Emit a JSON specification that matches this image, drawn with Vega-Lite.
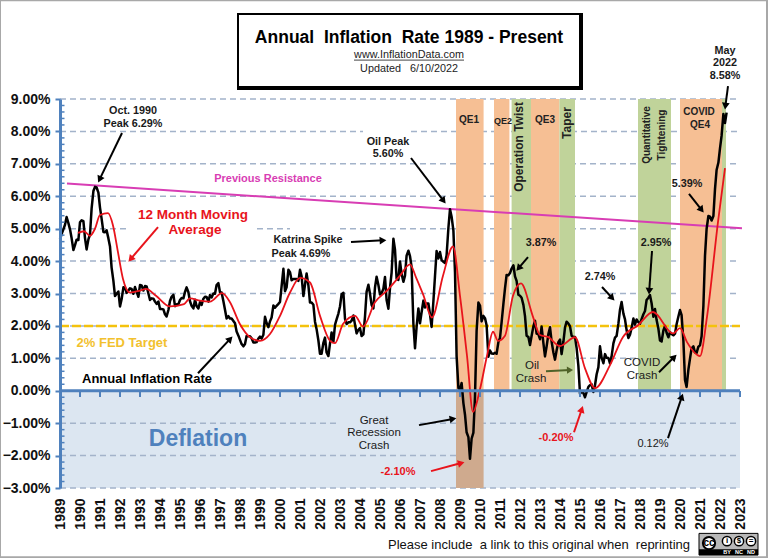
{"$schema":"https://vega.github.io/schema/vega-lite/v6.json","width":680,"height":389,"autosize":{"type":"none"},"padding":{"left":60,"top":99,"right":28,"bottom":70},"background":"white","view":{"stroke":null},
"datasets":{
"cpi":[
{"x":1989.00,"y":4.67},{"x":1989.08,"y":4.83},{"x":1989.17,"y":4.98},{"x":1989.25,"y":5.12},{"x":1989.33,"y":5.36},{"x":1989.42,"y":5.17},{"x":1989.50,"y":4.98},{"x":1989.58,"y":4.71},{"x":1989.67,"y":4.34},{"x":1989.75,"y":4.49},{"x":1989.83,"y":4.66},{"x":1989.92,"y":4.65},
{"x":1990.00,"y":5.20},{"x":1990.08,"y":5.26},{"x":1990.17,"y":5.23},{"x":1990.25,"y":4.71},{"x":1990.33,"y":4.36},{"x":1990.42,"y":4.67},{"x":1990.50,"y":4.82},{"x":1990.58,"y":5.62},{"x":1990.67,"y":6.16},{"x":1990.75,"y":6.29},{"x":1990.83,"y":6.27},{"x":1990.92,"y":6.11},
{"x":1991.00,"y":5.65},{"x":1991.08,"y":5.31},{"x":1991.17,"y":4.90},{"x":1991.25,"y":4.89},{"x":1991.33,"y":4.95},{"x":1991.42,"y":4.70},{"x":1991.50,"y":4.45},{"x":1991.58,"y":3.80},{"x":1991.67,"y":3.39},{"x":1991.75,"y":2.92},{"x":1991.83,"y":2.99},{"x":1991.92,"y":3.06},
{"x":1992.00,"y":2.60},{"x":1992.08,"y":2.82},{"x":1992.17,"y":3.19},{"x":1992.25,"y":3.18},{"x":1992.33,"y":3.02},{"x":1992.42,"y":3.09},{"x":1992.50,"y":3.16},{"x":1992.58,"y":3.14},{"x":1992.67,"y":2.99},{"x":1992.75,"y":3.20},{"x":1992.83,"y":3.05},{"x":1992.92,"y":2.90},
{"x":1993.00,"y":3.26},{"x":1993.08,"y":3.25},{"x":1993.17,"y":3.09},{"x":1993.25,"y":3.23},{"x":1993.33,"y":3.22},{"x":1993.42,"y":3.00},{"x":1993.50,"y":2.80},{"x":1993.58,"y":2.85},{"x":1993.67,"y":2.84},{"x":1993.75,"y":2.75},{"x":1993.83,"y":2.68},{"x":1993.92,"y":2.75},
{"x":1994.00,"y":2.52},{"x":1994.08,"y":2.52},{"x":1994.17,"y":2.51},{"x":1994.25,"y":2.36},{"x":1994.33,"y":2.29},{"x":1994.42,"y":2.49},{"x":1994.50,"y":2.77},{"x":1994.58,"y":2.90},{"x":1994.67,"y":2.96},{"x":1994.75,"y":2.61},{"x":1994.83,"y":2.67},{"x":1994.92,"y":2.67},
{"x":1995.00,"y":2.80},{"x":1995.08,"y":2.86},{"x":1995.17,"y":2.85},{"x":1995.25,"y":3.05},{"x":1995.33,"y":3.19},{"x":1995.42,"y":3.04},{"x":1995.50,"y":2.76},{"x":1995.58,"y":2.62},{"x":1995.67,"y":2.54},{"x":1995.75,"y":2.81},{"x":1995.83,"y":2.61},{"x":1995.92,"y":2.54},
{"x":1996.00,"y":2.73},{"x":1996.08,"y":2.65},{"x":1996.17,"y":2.84},{"x":1996.25,"y":2.90},{"x":1996.33,"y":2.89},{"x":1996.42,"y":2.75},{"x":1996.50,"y":2.95},{"x":1996.58,"y":2.88},{"x":1996.67,"y":3.00},{"x":1996.75,"y":2.99},{"x":1996.83,"y":3.26},{"x":1996.92,"y":3.32},
{"x":1997.00,"y":3.04},{"x":1997.08,"y":3.03},{"x":1997.17,"y":2.76},{"x":1997.25,"y":2.50},{"x":1997.33,"y":2.23},{"x":1997.42,"y":2.30},{"x":1997.50,"y":2.23},{"x":1997.58,"y":2.23},{"x":1997.67,"y":2.15},{"x":1997.75,"y":2.08},{"x":1997.83,"y":1.83},{"x":1997.92,"y":1.70},
{"x":1998.00,"y":1.57},{"x":1998.08,"y":1.44},{"x":1998.17,"y":1.37},{"x":1998.25,"y":1.44},{"x":1998.33,"y":1.69},{"x":1998.42,"y":1.68},{"x":1998.50,"y":1.68},{"x":1998.58,"y":1.62},{"x":1998.67,"y":1.49},{"x":1998.75,"y":1.49},{"x":1998.83,"y":1.50},{"x":1998.92,"y":1.61},
{"x":1999.00,"y":1.67},{"x":1999.08,"y":1.61},{"x":1999.17,"y":1.73},{"x":1999.25,"y":2.28},{"x":1999.33,"y":2.09},{"x":1999.42,"y":1.96},{"x":1999.50,"y":2.14},{"x":1999.58,"y":2.26},{"x":1999.67,"y":2.63},{"x":1999.75,"y":2.56},{"x":1999.83,"y":2.62},{"x":1999.92,"y":2.68},
{"x":2000.00,"y":2.74},{"x":2000.08,"y":3.22},{"x":2000.17,"y":3.76},{"x":2000.25,"y":3.07},{"x":2000.33,"y":3.19},{"x":2000.42,"y":3.73},{"x":2000.50,"y":3.66},{"x":2000.58,"y":3.41},{"x":2000.67,"y":3.45},{"x":2000.75,"y":3.45},{"x":2000.83,"y":3.45},{"x":2000.92,"y":3.39},
{"x":2001.00,"y":3.73},{"x":2001.08,"y":3.53},{"x":2001.17,"y":2.92},{"x":2001.25,"y":3.27},{"x":2001.33,"y":3.62},{"x":2001.42,"y":3.25},{"x":2001.50,"y":2.72},{"x":2001.58,"y":2.72},{"x":2001.67,"y":2.65},{"x":2001.75,"y":2.13},{"x":2001.83,"y":1.90},{"x":2001.92,"y":1.55},
{"x":2002.00,"y":1.14},{"x":2002.08,"y":1.14},{"x":2002.17,"y":1.48},{"x":2002.25,"y":1.64},{"x":2002.33,"y":1.18},{"x":2002.42,"y":1.07},{"x":2002.50,"y":1.46},{"x":2002.58,"y":1.80},{"x":2002.67,"y":1.51},{"x":2002.75,"y":2.03},{"x":2002.83,"y":2.20},{"x":2002.92,"y":2.38},
{"x":2003.00,"y":2.60},{"x":2003.08,"y":2.98},{"x":2003.17,"y":3.02},{"x":2003.25,"y":2.22},{"x":2003.33,"y":2.06},{"x":2003.42,"y":2.11},{"x":2003.50,"y":2.11},{"x":2003.58,"y":2.16},{"x":2003.67,"y":2.32},{"x":2003.75,"y":2.04},{"x":2003.83,"y":1.77},{"x":2003.92,"y":1.88},
{"x":2004.00,"y":1.93},{"x":2004.08,"y":1.69},{"x":2004.17,"y":1.74},{"x":2004.25,"y":2.29},{"x":2004.33,"y":3.05},{"x":2004.42,"y":3.27},{"x":2004.50,"y":2.99},{"x":2004.58,"y":2.65},{"x":2004.67,"y":2.54},{"x":2004.75,"y":3.19},{"x":2004.83,"y":3.52},{"x":2004.92,"y":3.26},
{"x":2005.00,"y":2.97},{"x":2005.08,"y":3.01},{"x":2005.17,"y":3.15},{"x":2005.25,"y":3.51},{"x":2005.33,"y":2.80},{"x":2005.42,"y":2.53},{"x":2005.50,"y":3.17},{"x":2005.58,"y":3.64},{"x":2005.67,"y":4.69},{"x":2005.75,"y":4.35},{"x":2005.83,"y":3.46},{"x":2005.92,"y":3.42},
{"x":2006.00,"y":3.99},{"x":2006.08,"y":3.60},{"x":2006.17,"y":3.36},{"x":2006.25,"y":3.55},{"x":2006.33,"y":4.17},{"x":2006.42,"y":4.32},{"x":2006.50,"y":4.15},{"x":2006.58,"y":3.82},{"x":2006.67,"y":2.06},{"x":2006.75,"y":1.31},{"x":2006.83,"y":1.97},{"x":2006.92,"y":2.54},
{"x":2007.00,"y":2.08},{"x":2007.08,"y":2.42},{"x":2007.17,"y":2.78},{"x":2007.25,"y":2.57},{"x":2007.33,"y":2.69},{"x":2007.42,"y":2.69},{"x":2007.50,"y":2.36},{"x":2007.58,"y":1.97},{"x":2007.67,"y":2.76},{"x":2007.75,"y":3.54},{"x":2007.83,"y":4.31},{"x":2007.92,"y":4.08},
{"x":2008.00,"y":4.28},{"x":2008.08,"y":4.03},{"x":2008.17,"y":3.98},{"x":2008.25,"y":3.94},{"x":2008.33,"y":4.18},{"x":2008.42,"y":5.02},{"x":2008.50,"y":5.60},{"x":2008.58,"y":5.37},{"x":2008.67,"y":4.94},{"x":2008.75,"y":3.66},{"x":2008.83,"y":1.07},{"x":2008.92,"y":0.09},
{"x":2009.00,"y":0.03},{"x":2009.08,"y":0.24},{"x":2009.17,"y":-0.38},{"x":2009.25,"y":-0.74},{"x":2009.33,"y":-1.28},{"x":2009.42,"y":-1.43},{"x":2009.50,"y":-2.10},{"x":2009.58,"y":-1.48},{"x":2009.67,"y":-1.29},{"x":2009.75,"y":-0.18},{"x":2009.83,"y":1.84},{"x":2009.92,"y":2.72},
{"x":2010.00,"y":2.63},{"x":2010.08,"y":2.14},{"x":2010.17,"y":2.31},{"x":2010.25,"y":2.24},{"x":2010.33,"y":2.02},{"x":2010.42,"y":1.05},{"x":2010.50,"y":1.24},{"x":2010.58,"y":1.15},{"x":2010.67,"y":1.14},{"x":2010.75,"y":1.17},{"x":2010.83,"y":1.14},{"x":2010.92,"y":1.50},
{"x":2011.00,"y":1.63},{"x":2011.08,"y":2.11},{"x":2011.17,"y":2.68},{"x":2011.25,"y":3.16},{"x":2011.33,"y":3.57},{"x":2011.42,"y":3.56},{"x":2011.50,"y":3.63},{"x":2011.58,"y":3.77},{"x":2011.67,"y":3.87},{"x":2011.75,"y":3.53},{"x":2011.83,"y":3.39},{"x":2011.92,"y":2.96},
{"x":2012.00,"y":2.93},{"x":2012.08,"y":2.87},{"x":2012.17,"y":2.65},{"x":2012.25,"y":2.30},{"x":2012.33,"y":1.70},{"x":2012.42,"y":1.66},{"x":2012.50,"y":1.41},{"x":2012.58,"y":1.69},{"x":2012.67,"y":1.99},{"x":2012.75,"y":2.16},{"x":2012.83,"y":1.76},{"x":2012.92,"y":1.74},
{"x":2013.00,"y":1.59},{"x":2013.08,"y":1.98},{"x":2013.17,"y":1.47},{"x":2013.25,"y":1.06},{"x":2013.33,"y":1.36},{"x":2013.42,"y":1.75},{"x":2013.50,"y":1.96},{"x":2013.58,"y":1.52},{"x":2013.67,"y":1.18},{"x":2013.75,"y":0.96},{"x":2013.83,"y":1.24},{"x":2013.92,"y":1.50},
{"x":2014.00,"y":1.58},{"x":2014.08,"y":1.13},{"x":2014.17,"y":1.51},{"x":2014.25,"y":1.95},{"x":2014.33,"y":2.13},{"x":2014.42,"y":2.07},{"x":2014.50,"y":1.99},{"x":2014.58,"y":1.70},{"x":2014.67,"y":1.66},{"x":2014.75,"y":1.66},{"x":2014.83,"y":1.32},{"x":2014.92,"y":0.76},
{"x":2015.00,"y":-0.09},{"x":2015.08,"y":-0.03},{"x":2015.17,"y":-0.07},{"x":2015.25,"y":-0.20},{"x":2015.33,"y":-0.04},{"x":2015.42,"y":0.12},{"x":2015.50,"y":0.17},{"x":2015.58,"y":0.20},{"x":2015.67,"y":-0.04},{"x":2015.75,"y":0.17},{"x":2015.83,"y":0.50},{"x":2015.92,"y":0.73},
{"x":2016.00,"y":1.37},{"x":2016.08,"y":1.02},{"x":2016.17,"y":0.85},{"x":2016.25,"y":1.13},{"x":2016.33,"y":1.02},{"x":2016.42,"y":1.01},{"x":2016.50,"y":0.84},{"x":2016.58,"y":1.06},{"x":2016.67,"y":1.46},{"x":2016.75,"y":1.64},{"x":2016.83,"y":1.69},{"x":2016.92,"y":2.07},
{"x":2017.00,"y":2.50},{"x":2017.08,"y":2.74},{"x":2017.17,"y":2.38},{"x":2017.25,"y":2.20},{"x":2017.33,"y":1.87},{"x":2017.42,"y":1.63},{"x":2017.50,"y":1.73},{"x":2017.58,"y":1.94},{"x":2017.67,"y":2.23},{"x":2017.75,"y":2.04},{"x":2017.83,"y":2.20},{"x":2017.92,"y":2.11},
{"x":2018.00,"y":2.07},{"x":2018.08,"y":2.21},{"x":2018.17,"y":2.36},{"x":2018.25,"y":2.46},{"x":2018.33,"y":2.80},{"x":2018.42,"y":2.87},{"x":2018.50,"y":2.95},{"x":2018.58,"y":2.70},{"x":2018.67,"y":2.28},{"x":2018.75,"y":2.52},{"x":2018.83,"y":2.18},{"x":2018.92,"y":1.91},
{"x":2019.00,"y":1.55},{"x":2019.08,"y":1.52},{"x":2019.17,"y":1.86},{"x":2019.25,"y":2.00},{"x":2019.33,"y":1.79},{"x":2019.42,"y":1.65},{"x":2019.50,"y":1.81},{"x":2019.58,"y":1.75},{"x":2019.67,"y":1.71},{"x":2019.75,"y":1.76},{"x":2019.83,"y":2.05},{"x":2019.92,"y":2.29},
{"x":2020.00,"y":2.49},{"x":2020.08,"y":2.33},{"x":2020.17,"y":1.54},{"x":2020.25,"y":0.33},{"x":2020.33,"y":0.12},{"x":2020.42,"y":0.65},{"x":2020.50,"y":0.99},{"x":2020.58,"y":1.31},{"x":2020.67,"y":1.37},{"x":2020.75,"y":1.18},{"x":2020.83,"y":1.17},{"x":2020.92,"y":1.36},
{"x":2021.00,"y":1.40},{"x":2021.08,"y":1.68},{"x":2021.17,"y":2.62},{"x":2021.25,"y":4.16},{"x":2021.33,"y":4.99},{"x":2021.42,"y":5.39},{"x":2021.50,"y":5.37},{"x":2021.58,"y":5.25},{"x":2021.67,"y":5.39},{"x":2021.75,"y":6.22},{"x":2021.83,"y":6.81},{"x":2021.92,"y":7.04},
{"x":2022.00,"y":7.48},{"x":2022.08,"y":7.87},{"x":2022.17,"y":8.54},{"x":2022.25,"y":8.26},{"x":2022.33,"y":8.58}],
"ma":[
{"x":1989.9,"y":4.87},{"x":1990.2,"y":4.92},{"x":1990.5,"y":4.78},{"x":1990.75,"y":5.0},{"x":1991.0,"y":5.42},{"x":1991.4,"y":5.48},{"x":1991.65,"y":5.1},{"x":1991.9,"y":4.27},{"x":1992.15,"y":3.45},{"x":1992.5,"y":3.03},{"x":1993.0,"y":3.09},{"x":1993.3,"y":3.14},{"x":1993.8,"y":2.93},{"x":1994.5,"y":2.6},{"x":1995.2,"y":2.67},{"x":1995.5,"y":2.85},{"x":1996.0,"y":2.78},{"x":1996.5,"y":2.75},{"x":1997.1,"y":3.01},{"x":1997.5,"y":2.73},{"x":1998.0,"y":2.05},{"x":1998.5,"y":1.65},{"x":1999.0,"y":1.54},{"x":1999.5,"y":1.75},{"x":2000.0,"y":2.31},{"x":2000.5,"y":3.03},{"x":2001.0,"y":3.48},{"x":2001.5,"y":3.34},{"x":2002.0,"y":2.31},{"x":2002.5,"y":1.54},{"x":2002.75,"y":1.47},{"x":2003.15,"y":2.06},{"x":2003.75,"y":2.31},{"x":2004.15,"y":1.98},{"x":2004.75,"y":2.73},{"x":2005.35,"y":3.09},{"x":2006.0,"y":3.55},{"x":2006.5,"y":3.9},{"x":2006.8,"y":3.5},{"x":2007.15,"y":2.98},{"x":2007.6,"y":2.26},{"x":2008.15,"y":3.55},{"x":2008.65,"y":4.45},{"x":2009.0,"y":2.93},{"x":2009.35,"y":1.08},{"x":2009.65,"y":-0.65},{"x":2010.0,"y":0.05},{"x":2010.35,"y":1.08},{"x":2010.65,"y":1.82},{"x":2010.9,"y":1.54},{"x":2011.25,"y":1.7},{"x":2011.65,"y":2.93},{"x":2012.05,"y":3.31},{"x":2012.65,"y":2.28},{"x":2013.0,"y":1.72},{"x":2013.4,"y":1.66},{"x":2014.0,"y":1.38},{"x":2014.75,"y":1.65},{"x":2015.25,"y":0.69},{"x":2015.75,"y":0.08},{"x":2016.5,"y":0.79},{"x":2017.15,"y":1.66},{"x":2017.9,"y":2.02},{"x":2018.65,"y":2.43},{"x":2019.65,"y":1.77},{"x":2020.0,"y":1.93},{"x":2020.35,"y":1.5},{"x":2021.0,"y":1.07},{"x":2021.35,"y":2.28},{"x":2021.9,"y":5.21},{"x":2022.25,"y":6.87}],
"arrowsBlack":[
{"x":1992.1,"y":7.95,"x2":1990.98,"y2":6.52,"heading":205.6},
{"x":1995.9,"y":0.54,"x2":1997.51,"y2":1.60,"heading":43.4},
{"x":2003.55,"y":4.59,"x2":2005.15,"y2":4.64,"heading":86.8},
{"x":2006.55,"y":7.18,"x2":2008.18,"y2":5.86,"heading":142.7},
{"x":2006.95,"y":-1.06,"x2":2008.65,"y2":-0.87,"heading":79.6},
{"x":2012.4,"y":4.12,"x2":2011.93,"y2":3.78,"heading":220.6},
{"x":2018.6,"y":4.31,"x2":2018.46,"y2":3.07,"heading":183.9},
{"x":2016.1,"y":3.2,"x2":2016.61,"y2":2.86,"heading":137.1},
{"x":2020.45,"y":6.07,"x2":2021.08,"y2":5.58,"heading":141.7},
{"x":2022.4,"y":9.4,"x2":2022.27,"y2":8.78,"heading":187.1},
{"x":2018.95,"y":0.57,"x2":2019.71,"y2":1.04,"heading":45},
{"x":2019.4,"y":-1.46,"x2":2020.09,"y2":-0.19,"heading":18.4}],
"arrowsRed":[
{"x":1993.9,"y":5.05,"x2":1992.53,"y2":4.06,"heading":220.6},
{"x":2007.55,"y":-2.48,"x2":2009.06,"y2":-2.23,"heading":75.2},
{"x":2014.7,"y":-1.28,"x2":2015.09,"y2":-0.57,"heading":18.4}],
"arrowsOlive":[{"x":2013.3,"y":0.6,"x2":2014.5,"y2":0.64,"heading":88}]
},
"encoding":{
"x":{"field":"x","type":"quantitative","scale":{"domain":[1989,2023],"nice":false,"zero":false},"axis":{"title":null,"values":[1989,1990,1991,1992,1993,1994,1995,1996,1997,1998,1999,2000,2001,2002,2003,2004,2005,2006,2007,2008,2009,2010,2011,2012,2013,2014,2015,2016,2017,2018,2019,2020,2021,2022,2023],"format":"d","grid":false,"domain":false,"ticks":false,"labelAngle":270,"labelAlign":"right","labelBaseline":"middle","labelPadding":10,"labelFont":"Liberation Sans","labelFontWeight":"bold","labelFontSize":14,"labelColor":"#111111","labelOverlap":false}},
"y":{"field":"y","type":"quantitative","scale":{"domain":[-3,9],"nice":false,"zero":false},"axis":{"title":null,"values":[-3,-2,-1,0,1,2,3,4,5,6,7,8,9],"labelExpr":"format(datum.value,'.2f')+'%'","grid":false,"domainColor":"#4f81bd","domainWidth":3,"tickColor":"#4f81bd","tickWidth":2,"tickSize":5,"labelPadding":5,"labelFont":"Liberation Sans","labelFontWeight":"bold","labelFontSize":14,"labelColor":"#111111","labelOverlap":false,"zindex":1}}
},
"layer":[
{"data":{"values":[{"x":1986,"x2":2024.35,"y":12.05,"y2":-5.14}]},"mark":{"type":"rect","fill":null,"stroke":"#a8a8a8","strokeWidth":2},"encoding":{"x2":{"field":"x2"},"y2":{"field":"y2"}}},
{"data":{"values":[{"x":1997.85,"x2":2015.15,"y":11.65,"y2":9.28}]},"mark":{"type":"rect","fill":"#000000"},"encoding":{"x2":{"field":"x2"},"y2":{"field":"y2"}}},
{"data":{"values":[{"x":1997.95,"x2":2014.95,"y":11.59,"y2":9.40}]},"mark":{"type":"rect","fill":"#ffffff"},"encoding":{"x2":{"field":"x2"},"y2":{"field":"y2"}}},
{"data":{"values":[{"x":1989,"x2":2023,"y":0,"y2":-3}]},"mark":{"type":"rect","fill":"#dce6f1"},"encoding":{"x2":{"field":"x2"},"y2":{"field":"y2"}}},
{"data":{"values":[{"x":1989,"x2":2023,"y":9},{"x":1989,"x2":2004.15,"y":8},{"x":2006.55,"x2":2023,"y":8},{"x":1989,"x2":2023,"y":7},{"x":1989,"x2":2023,"y":6},{"x":1989,"x2":1992.5,"y":5},{"x":1998.85,"x2":2000.5,"y":5},{"x":2003,"x2":2023,"y":5},{"x":1989,"x2":2023,"y":4},{"x":1989,"x2":2023,"y":3},{"x":1989,"x2":2023,"y":2},{"x":1989,"x2":2023,"y":1},{"x":1989,"x2":2002.8,"y":-1},{"x":2007,"x2":2023,"y":-1},{"x":1989,"x2":2023,"y":-2},{"x":1989,"x2":2023,"y":-3}]},"mark":{"type":"rule","stroke":"#a3b3ca","strokeWidth":1.5,"strokeDash":[6,4]},"encoding":{"x2":{"field":"x2"}}},
{"data":{"values":[{"x":2008.8,"x2":2010.18,"y":9,"y2":0},{"x":2010.7,"x2":2011.47,"y":9,"y2":0},{"x":2012.55,"x2":2013.97,"y":9,"y2":0},{"x":2020.0,"x2":2022.1,"y":9,"y2":0}]},"mark":{"type":"rect","fill":"#f6bf94"},"encoding":{"x2":{"field":"x2"},"y2":{"field":"y2"}}},
{"data":{"values":[{"x":2011.58,"x2":2012.55,"y":9,"y2":0},{"x":2013.97,"x2":2014.75,"y":9,"y2":0},{"x":2017.9,"x2":2019.55,"y":9,"y2":0},{"x":2022.1,"x2":2022.3,"y":9,"y2":0}]},"mark":{"type":"rect","fill":"#c0d39a"},"encoding":{"x2":{"field":"x2"},"y2":{"field":"y2"}}},
{"data":{"values":[{"x":2008.8,"x2":2010.18,"y":0,"y2":-3}]},"mark":{"type":"rect","fill":"#cfaa8e"},"encoding":{"x2":{"field":"x2"},"y2":{"field":"y2"}}},
{"data":{"values":[{"x":1989,"x2":2023,"y":2}]},"mark":{"type":"rule","stroke":"#f4c20d","strokeWidth":2.5,"strokeDash":[9,3]},"encoding":{"x2":{"field":"x2"}}},
{"data":{"values":[{"x":1989.35,"y":6.39},{"x":2023.1,"y":5.01}]},"mark":{"type":"line","stroke":"#d83db4","strokeWidth":2}},
{"data":{"name":"cpi"},"mark":{"type":"line","stroke":"#000000","strokeWidth":2.5,"strokeJoin":"round"}},
{"data":{"name":"ma"},"mark":{"type":"line","stroke":"#e8141c","strokeWidth":1.8,"interpolate":"monotone"}},
{"data":{"values":[{"x":1989,"x2":2023,"y":0}]},"mark":{"type":"rule","stroke":"#4f81bd","strokeWidth":3},"encoding":{"x2":{"field":"x2"}}},
{"data":{"values":[{"x":1989,"y":-0.1},{"x":1990,"y":-0.1},{"x":1991,"y":-0.1},{"x":1992,"y":-0.1},{"x":1993,"y":-0.1},{"x":1994,"y":-0.1},{"x":1995,"y":-0.1},{"x":1996,"y":-0.1},{"x":1997,"y":-0.1},{"x":1998,"y":-0.1},{"x":1999,"y":-0.1},{"x":2000,"y":-0.1},{"x":2001,"y":-0.1},{"x":2002,"y":-0.1},{"x":2003,"y":-0.1},{"x":2004,"y":-0.1},{"x":2005,"y":-0.1},{"x":2006,"y":-0.1},{"x":2007,"y":-0.1},{"x":2008,"y":-0.1},{"x":2009,"y":-0.1},{"x":2010,"y":-0.1},{"x":2011,"y":-0.1},{"x":2012,"y":-0.1},{"x":2013,"y":-0.1},{"x":2014,"y":-0.1},{"x":2015,"y":-0.1},{"x":2016,"y":-0.1},{"x":2017,"y":-0.1},{"x":2018,"y":-0.1},{"x":2019,"y":-0.1},{"x":2020,"y":-0.1},{"x":2021,"y":-0.1},{"x":2022,"y":-0.1},{"x":2023,"y":-0.1}]},"mark":{"type":"tick","orient":"vertical","color":"#4f81bd","size":6,"thickness":2,"opacity":1}},
{"data":{"values":[{"x":1989.1,"y":8.8},{"x":1989.1,"y":8.6},{"x":1989.1,"y":8.4},{"x":1989.1,"y":8.2},{"x":1989.1,"y":7.8},{"x":1989.1,"y":7.6},{"x":1989.1,"y":7.4},{"x":1989.1,"y":7.2},{"x":1989.1,"y":6.8},{"x":1989.1,"y":6.6},{"x":1989.1,"y":6.4},{"x":1989.1,"y":6.2},{"x":1989.1,"y":5.8},{"x":1989.1,"y":5.6},{"x":1989.1,"y":5.4},{"x":1989.1,"y":5.2},{"x":1989.1,"y":4.8},{"x":1989.1,"y":4.6},{"x":1989.1,"y":4.4},{"x":1989.1,"y":4.2},{"x":1989.1,"y":3.8},{"x":1989.1,"y":3.6},{"x":1989.1,"y":3.4},{"x":1989.1,"y":3.2},{"x":1989.1,"y":2.8},{"x":1989.1,"y":2.6},{"x":1989.1,"y":2.4},{"x":1989.1,"y":2.2},{"x":1989.1,"y":1.8},{"x":1989.1,"y":1.6},{"x":1989.1,"y":1.4},{"x":1989.1,"y":1.2},{"x":1989.1,"y":0.8},{"x":1989.1,"y":0.6},{"x":1989.1,"y":0.4},{"x":1989.1,"y":0.2},{"x":1989.1,"y":-0.2},{"x":1989.1,"y":-0.4},{"x":1989.1,"y":-0.6},{"x":1989.1,"y":-0.8},{"x":1989.1,"y":-1.2},{"x":1989.1,"y":-1.4},{"x":1989.1,"y":-1.6},{"x":1989.1,"y":-1.8},{"x":1989.1,"y":-2.2},{"x":1989.1,"y":-2.4},{"x":1989.1,"y":-2.6},{"x":1989.1,"y":-2.8}]},"mark":{"type":"tick","orient":"horizontal","color":"#4f81bd","size":5,"thickness":1.5,"opacity":1}},
{"data":{"values":[{"x":2006.45,"y":10.88,"t":"Annual\u00a0 Inflation\u00a0 Rate 1989 - Present"}]},"mark":{"type":"text","font":"Liberation Sans","fontWeight":"bold","fontSize":17.5,"color":"#000000"},"encoding":{"text":{"field":"t"}}},
{"data":{"values":[{"x":2006.45,"y":10.36,"t":"www.InflationData.com"},{"x":2006.45,"y":9.92,"t":"Updated\u00a0 \u00a06/10/2022"}]},"mark":{"type":"text","font":"Liberation Sans","fontSize":10.8,"color":"#222222"},"encoding":{"text":{"field":"t"}}},
{"data":{"values":[{"x":2003.7,"x2":2009.2,"y":10.2}]},"mark":{"type":"rule","stroke":"#444444","strokeWidth":1},"encoding":{"x2":{"field":"x2"}}},
{"data":{"values":[{"x":1992.65,"y":8.63,"t":"Oct. 1990"},{"x":1992.65,"y":8.23,"t":"Peak 6.29%"},{"x":2001.4,"y":4.65,"t":"Katrina Spike"},{"x":2001.05,"y":4.22,"t":"Peak 4.69%"},{"x":2005.4,"y":7.67,"t":"Oil Peak"},{"x":2005.4,"y":7.3,"t":"5.60%"},{"x":2022.25,"y":10.48,"t":"May"},{"x":2022.25,"y":10.11,"t":"2022"},{"x":2022.25,"y":9.71,"t":"8.58%"},{"x":2013.05,"y":4.56,"t":"3.87%"},{"x":2018.8,"y":4.56,"t":"2.95%"},{"x":2016,"y":3.51,"t":"2.74%"},{"x":2020.35,"y":6.38,"t":"5.39%"}]},"mark":{"type":"text","font":"Liberation Sans","fontWeight":"bold","fontSize":10.8,"color":"#1a1a1a"},"encoding":{"text":{"field":"t"}}},
{"data":{"values":[{"x":1995.65,"y":5.42,"t":"12 Month Moving"},{"x":1995.75,"y":4.96,"t":"Average"}]},"mark":{"type":"text","font":"Liberation Sans","fontWeight":"bold","fontSize":13.5,"color":"#e8141c"},"encoding":{"text":{"field":"t"}}},
{"data":{"values":[{"x":1999.4,"y":6.53,"t":"Previous Resistance"}]},"mark":{"type":"text","font":"Liberation Sans","fontWeight":"bold","fontSize":11,"color":"#d83db4"},"encoding":{"text":{"field":"t"}}},
{"data":{"values":[{"x":1992.1,"y":1.47,"t":"2% FED Target"}]},"mark":{"type":"text","font":"Liberation Sans","fontWeight":"bold","fontSize":13,"color":"#f2c12e"},"encoding":{"text":{"field":"t"}}},
{"data":{"values":[{"x":1993.35,"y":0.36,"t":"Annual Inflation Rate"}]},"mark":{"type":"text","font":"Liberation Sans","fontWeight":"bold","fontSize":13,"color":"#000000"},"encoding":{"text":{"field":"t"}}},
{"data":{"values":[{"x":2009.45,"y":8.35,"t":"QE1"},{"x":2013.25,"y":8.35,"t":"QE3"},{"x":2020.95,"y":8.6,"t":"COVID"},{"x":2021,"y":8.2,"t":"QE4"}]},"mark":{"type":"text","font":"Liberation Sans","fontWeight":"bold","fontSize":10,"color":"#222222"},"encoding":{"text":{"field":"t"}}},
{"data":{"values":[{"x":2011.15,"y":8.32,"t":"QE2"}]},"mark":{"type":"text","font":"Liberation Sans","fontWeight":"bold","fontSize":9,"color":"#222222"},"encoding":{"text":{"field":"t"}}},
{"data":{"values":[{"x":2011.95,"y":7.52,"t":"Operation Twist"},{"x":2014.35,"y":8.26,"t":"Taper"}]},"mark":{"type":"text","font":"Liberation Sans","fontSize":12,"fontWeight":"bold","angle":270,"color":"#222222"},"encoding":{"text":{"field":"t"}}},
{"data":{"values":[{"x":2018.35,"y":7.89,"t":"Quantitative"},{"x":2019.1,"y":7.89,"t":"Tightening"}]},"mark":{"type":"text","font":"Liberation Sans","fontSize":10,"fontWeight":"bold","angle":270,"color":"#222222"},"encoding":{"text":{"field":"t"}}},
{"data":{"values":[{"x":2012.6,"y":0.76,"t":"Oil"},{"x":2012.55,"y":0.36,"t":"Crash"},{"x":2018.1,"y":0.85,"t":"COVID"},{"x":2018.1,"y":0.45,"t":"Crash"},{"x":2004.7,"y":-0.94,"t":"Great"},{"x":2004.7,"y":-1.31,"t":"Recession"},{"x":2004.7,"y":-1.71,"t":"Crash"}]},"mark":{"type":"text","font":"Liberation Sans","fontSize":11.5,"color":"#1a1a1a"},"encoding":{"text":{"field":"t"}}},
{"data":{"values":[{"x":2005.9,"y":-2.51,"t":"-2.10%"},{"x":2013.8,"y":-1.46,"t":"-0.20%"}]},"mark":{"type":"text","font":"Liberation Sans","fontWeight":"bold","fontSize":11,"color":"#e8141c"},"encoding":{"text":{"field":"t"}}},
{"data":{"values":[{"x":2018.65,"y":-1.65,"t":"0.12%"}]},"mark":{"type":"text","font":"Liberation Sans","fontSize":11,"color":"#1a1a1a"},"encoding":{"text":{"field":"t"}}},
{"data":{"values":[{"x":1995.9,"y":-1.5,"t":"Deflation"}]},"mark":{"type":"text","font":"Liberation Sans","fontWeight":"bold","fontSize":23,"color":"#4f81bd"},"encoding":{"text":{"field":"t"}}},
{"data":{"values":[{"x":2012.95,"y":-4.77,"t":"Please include\u00a0 a link to this original when\u00a0 reprinting"}]},"mark":{"type":"text","font":"Liberation Sans","fontSize":13,"color":"#111111"},"encoding":{"text":{"field":"t"}}},
{"data":{"values":[{"x":2020.95,"x2":2023.9,"y":-4.40,"y2":-5.07}]},"mark":{"type":"rect","fill":"#b8b8b8","stroke":"#000000","strokeWidth":1},"encoding":{"x2":{"field":"x2"},"y2":{"field":"y2"}}},
{"data":{"values":[{"x":2020.95,"x2":2023.9,"y":-4.89,"y2":-5.07}]},"mark":{"type":"rect","fill":"#000000"},"encoding":{"x2":{"field":"x2"},"y2":{"field":"y2"}}},
{"data":{"values":[{"x":2021.45,"y":-4.70}]},"mark":{"type":"point","shape":"circle","filled":true,"fill":"#ffffff","stroke":"#000000","strokeWidth":2,"size":150,"opacity":1}},
{"data":{"values":[{"x":2022.35,"y":-4.64},{"x":2022.95,"y":-4.64},{"x":2023.55,"y":-4.64}]},"mark":{"type":"point","shape":"circle","filled":true,"fill":"#ffffff","stroke":"#000000","strokeWidth":1.5,"size":85,"opacity":1}},
{"data":{"values":[{"x":2021.45,"y":-4.71,"t":"cc"}]},"mark":{"type":"text","font":"Liberation Sans","fontWeight":"bold","fontSize":10,"color":"#000000"},"encoding":{"text":{"field":"t"}}},
{"data":{"values":[{"x":2022.35,"y":-4.64,"t":"i"},{"x":2022.95,"y":-4.64,"t":"$"},{"x":2023.55,"y":-4.64,"t":"="}]},"mark":{"type":"text","font":"Liberation Sans","fontWeight":"bold","fontSize":8,"color":"#000000"},"encoding":{"text":{"field":"t"}}},
{"data":{"values":[{"x":2022.35,"y":-4.98,"t":"BY"},{"x":2022.95,"y":-4.98,"t":"NC"},{"x":2023.55,"y":-4.98,"t":"ND"}]},"mark":{"type":"text","font":"Liberation Sans","fontWeight":"bold","fontSize":5.5,"color":"#ffffff"},"encoding":{"text":{"field":"t"}}},
{"data":{"name":"arrowsBlack"},"mark":{"type":"rule","stroke":"#000000","strokeWidth":2},"encoding":{"x2":{"field":"x2"},"y2":{"field":"y2"}}},
{"data":{"name":"arrowsBlack"},"mark":{"type":"point","shape":"triangle-up","filled":true,"color":"#000000","size":60,"opacity":1},"encoding":{"x":{"field":"x2","type":"quantitative"},"y":{"field":"y2","type":"quantitative"},"angle":{"field":"heading","type":"quantitative","scale":null}}},
{"data":{"name":"arrowsRed"},"mark":{"type":"rule","stroke":"#e8141c","strokeWidth":2},"encoding":{"x2":{"field":"x2"},"y2":{"field":"y2"}}},
{"data":{"name":"arrowsRed"},"mark":{"type":"point","shape":"triangle-up","filled":true,"color":"#e8141c","size":60,"opacity":1},"encoding":{"x":{"field":"x2","type":"quantitative"},"y":{"field":"y2","type":"quantitative"},"angle":{"field":"heading","type":"quantitative","scale":null}}},
{"data":{"name":"arrowsOlive"},"mark":{"type":"rule","stroke":"#4f6228","strokeWidth":2},"encoding":{"x2":{"field":"x2"},"y2":{"field":"y2"}}},
{"data":{"name":"arrowsOlive"},"mark":{"type":"point","shape":"triangle-up","filled":true,"color":"#4f6228","size":50,"opacity":1},"encoding":{"x":{"field":"x2","type":"quantitative"},"y":{"field":"y2","type":"quantitative"},"angle":{"field":"heading","type":"quantitative","scale":null}}}
]}
